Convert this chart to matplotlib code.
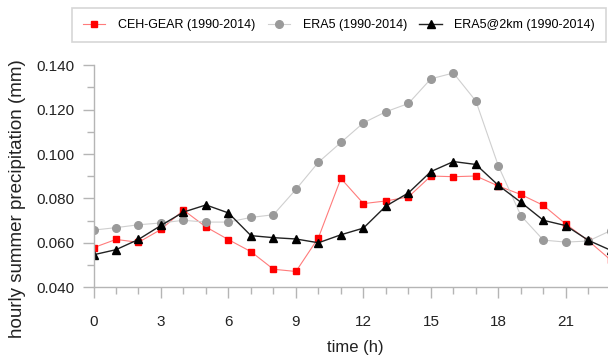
import matplotlib
matplotlib.use("Agg")
import matplotlib.pyplot as plt
from matplotlib.ticker import MultipleLocator, FixedLocator, FormatStrFormatter

plt.rcParams['font.family'] = ['Liberation Sans', 'DejaVu Sans']

hours = list(range(24))

# hourly mean summer precipitation (mm)
ceh_gear = [0.0579, 0.0616, 0.0603, 0.0661, 0.0748, 0.0672, 0.0615, 0.0561,
            0.0482, 0.0472, 0.0624, 0.0890, 0.0777, 0.0789, 0.0807, 0.0901,
            0.0898, 0.0901, 0.0856, 0.0818, 0.0769, 0.0685, 0.0610, 0.0523]
era5 = [0.0658, 0.0669, 0.0682, 0.0690, 0.0702, 0.0694, 0.0694, 0.0715,
        0.0727, 0.0841, 0.0963, 0.1052, 0.1140, 0.1190, 0.1227, 0.1338,
        0.1364, 0.1238, 0.0946, 0.0723, 0.0613, 0.0604, 0.0609, 0.0656]
era5_2km = [0.0547, 0.0570, 0.0616, 0.0679, 0.0739, 0.0771, 0.0735, 0.0633,
            0.0624, 0.0618, 0.0601, 0.0637, 0.0667, 0.0766, 0.0825, 0.0921,
            0.0966, 0.0953, 0.0859, 0.0783, 0.0702, 0.0678, 0.0612, 0.0567]

labels = ['CEH-GEAR (1990-2014)', 'ERA5 (1990-2014)', 'ERA5@2km (1990-2014)']
xtick_hours = [0, 3, 6, 9, 12, 15, 18, 21]

fig = plt.figure(figsize=(6.08, 3.57), dpi=100)
# the time axis runs on past the right edge of the figure
ax = fig.add_axes([0.1538, 0.1947, 0.862, 0.6232])

ax.plot(hours, ceh_gear, color='#ff7b7b', lw=0.8, marker='s', ms=5,
        mfc='#ff0000', mec='#ff0000', label=labels[0])
ax.plot(hours, era5, color='#cfcfcf', lw=0.8, marker='o', ms=5.5,
        mfc='#9a9a9a', mec='#9a9a9a', label=labels[1])
ax.plot(hours, era5_2km, color='#222222', lw=1.0, marker='^', ms=5.5,
        mfc='black', mec='black', label=labels[2])

ax.set_xlim(0, 23.3)
ax.set_ylim(0.040, 0.140)
ax.xaxis.set_major_locator(FixedLocator(xtick_hours))
ax.xaxis.set_minor_locator(MultipleLocator(1))
ax.yaxis.set_major_locator(MultipleLocator(0.02))
ax.yaxis.set_minor_locator(MultipleLocator(0.01))
ax.yaxis.set_major_formatter(FormatStrFormatter('%.3f'))

for side in ['top', 'right']:
    ax.spines[side].set_visible(False)
for side in ['left', 'bottom']:
    ax.spines[side].set_color('#b5b5b5')
    ax.spines[side].set_linewidth(1.0)

ax.tick_params(which='major', color='#b5b5b5', length=8, width=1.0,
               labelsize=11, labelcolor='#222222')
ax.tick_params(which='minor', color='#b5b5b5', length=5, width=1.0)
ax.tick_params(axis='x', pad=12)
ax.tick_params(axis='y', pad=6)

ax.set_xlabel('time (h)', fontsize=12, color='#222222', labelpad=8)
ax.set_ylabel('hourly summer precipitation (mm)', fontsize=13.5,
              color='#222222', labelpad=8)
ax.yaxis.set_label_coords(-0.128, 0.40)

leg = fig.legend(loc='center left', bbox_to_anchor=(0.118, 0.93), ncol=3,
                 fontsize=9, frameon=True, fancybox=False, borderpad=0.9,
                 handlelength=1.8, handletextpad=1.0, columnspacing=1.0,
                 borderaxespad=0.0)
leg.get_frame().set_edgecolor('#cccccc')
leg.get_frame().set_linewidth(1.2)

fig.savefig('out.png', dpi=100)
